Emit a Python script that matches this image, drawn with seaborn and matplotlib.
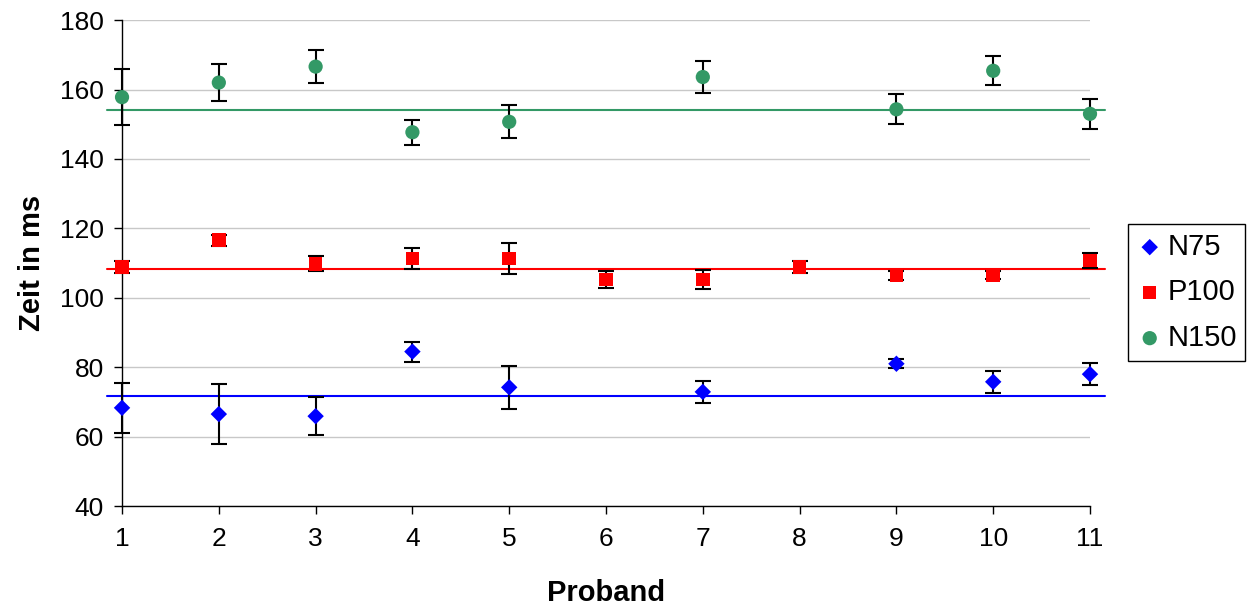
import matplotlib.pyplot as plt
import numpy as np
import pandas as pd
import seaborn as sns

# values
proband = list(range(1, 12))

n75 = [68.3, 66.5, 65.9, 84.5, 74.2, np.nan, 72.9, np.nan, 81.0, 75.8, 78.0]
n75_err = [7.3, 8.7, 5.5, 2.9, 6.1, np.nan, 3.2, np.nan, 1.3, 3.2, 3.2]

p100 = [108.9, 116.6, 109.8, 111.3, 111.3, 105.3, 105.3, 108.8, 106.4, 106.5, 110.8]
p100_err = [1.7, 1.6, 2.1, 3.0, 4.5, 2.4, 2.7, 1.7, 1.3, 1.2, 2.2]

n150 = [157.8, 162.0, 166.6, 147.7, 150.7, np.nan, 163.6, np.nan, 154.3, 165.4, 153.0]
n150_err = [8.0, 5.3, 4.7, 3.6, 4.7, np.nan, 4.5, np.nan, 4.3, 4.2, 4.4]

# horizontal reference lines (group means)
ref_lines = {"N75": 71.8, "P100": 108.2, "N150": 154.2}

series = {"N75": (n75, n75_err), "P100": (p100, p100_err), "N150": (n150, n150_err)}
colors = {"N75": "#0000FF", "P100": "#FF0000", "N150": "#339966"}
markers = {"N75": "D", "P100": "s", "N150": "o"}
msizes = {"N75": 70, "P100": 95, "N150": 105}

rows = []
for name, (vals, errs) in series.items():
    for p, v, e in zip(proband, vals, errs):
        rows.append({"Proband": p, "Zeit": v, "err": e, "Komponente": name})
df = pd.DataFrame(rows).dropna()

sns.set_style("white")
plt.rcParams["font.family"] = ["Liberation Sans", "DejaVu Sans"]
plt.rcParams["text.color"] = "black"
plt.rcParams["axes.labelcolor"] = "black"
plt.rcParams["xtick.color"] = "black"
plt.rcParams["ytick.color"] = "black"

fig = plt.figure(figsize=(12.49, 6.09), dpi=100)
ax = fig.add_axes([0.0977, 0.169, 0.775, 0.798])

for name in series:
    sub = df[df["Komponente"] == name]
    ax.axhline(ref_lines[name], xmin=-0.016, xmax=1.016, color=colors[name],
               lw=1.5, clip_on=False, zorder=2)
    ax.errorbar(sub["Proband"], sub["Zeit"], yerr=sub["err"], fmt="none",
                ecolor="black", elinewidth=1.5, capsize=6, capthick=1.5,
                clip_on=False, zorder=3)
    sns.scatterplot(data=sub, x="Proband", y="Zeit", marker=markers[name],
                    color=colors[name], s=msizes[name], edgecolor="none",
                    label=name, ax=ax, clip_on=False, zorder=4)

ax.set_xlim(1, 11)
ax.set_ylim(40, 180)
ax.set_xticks(proband)
ax.set_yticks(range(40, 181, 20))
ax.yaxis.grid(True, color="#C8C8C8", lw=1)
ax.xaxis.grid(False)
ax.set_axisbelow(True)

for side in ["top", "right"]:
    ax.spines[side].set_visible(False)
for side in ["left", "bottom"]:
    ax.spines[side].set_color("black")
    ax.spines[side].set_linewidth(1)

ax.tick_params(axis="both", direction="out", length=6, width=1, color="black",
               labelsize=19, left=True, bottom=True)
ax.tick_params(axis="x", pad=9)
ax.tick_params(axis="y", pad=7)

ax.set_xlabel("Proband", fontsize=21, fontweight="bold", labelpad=20)
ax.set_ylabel("Zeit in ms", fontsize=21, fontweight="bold", labelpad=10)

handles, labels = ax.get_legend_handles_labels()
leg = ax.legend(handles, labels, loc="center left", bbox_to_anchor=(0.903, 0.52),
                bbox_transform=fig.transFigure, fontsize=21, frameon=True,
                fancybox=False, edgecolor="black", framealpha=1,
                handletextpad=0.15, labelspacing=0.6, borderpad=0.3,
                handlelength=0.9, borderaxespad=0, markerscale=1.0)
leg.get_frame().set_linewidth(1)

fig.savefig("out.png", dpi=100)
